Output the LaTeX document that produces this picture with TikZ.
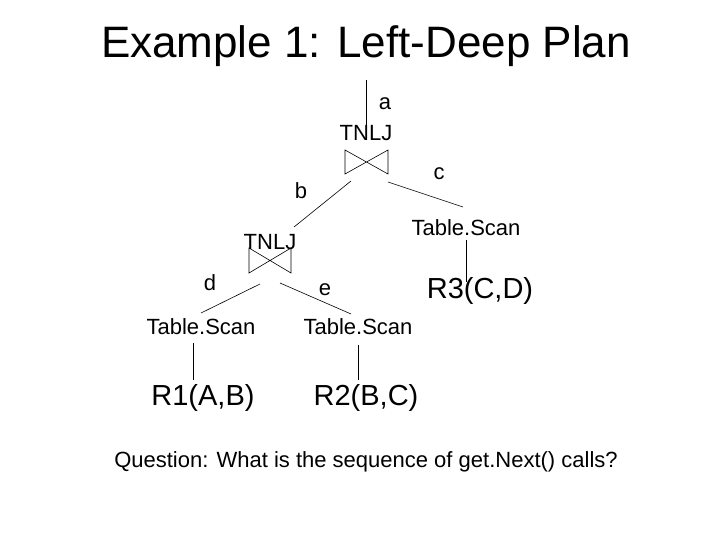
\documentclass[tikz,border=0pt]{standalone}
\usepackage{fontspec}
\setmainfont{Liberation Sans}
\begin{document}
\begin{tikzpicture}[x=1pt,y=-1pt,
  lbl/.style={inner sep=0pt,font=\fontsize{22}{24}\selectfont},
  rel/.style={inner sep=0pt,font=\fontsize{29}{32}\selectfont},
  ln/.style={black,line width=0.6pt}]
\useasboundingbox (0,0) rectangle (720,540);
\node[inner sep=0pt,font=\fontsize{44}{48}\selectfont] (title) at (366,46) {Example 1: Left-Deep Plan};
\coordinate (top) at (366,80);
\node[lbl] (a) at (385,104) {a};
\node[lbl] (t1) at (366,133) {TNLJ};
\draw[ln] (345,150)--(345,174)--(388,150)--(388,174)--cycle;
\node[lbl] (c) at (439,174) {c};
\node[lbl] (b) at (301,191) {b};
\node[lbl] (ts3) at (466,228) {Table.Scan};
\node[lbl] (t2) at (270,242) {TNLJ};
\draw[ln] (249,248)--(249,273)--(291,248)--(291,273)--cycle;
\node[lbl] (d) at (210,283) {d};
\node[lbl] (e) at (325,290) {e};
\node[rel] (r3) at (480,291) {R3(C,D)};
\node[lbl] (ts1) at (201,327) {Table.Scan};
\node[lbl] (ts2) at (358,327) {Table.Scan};
\node[rel] (r1) at (203,398) {R1(A,B)};
\node[rel] (r2) at (366,398) {R2(B,C)};
\node[lbl] (q) at (366,462) {Question: What is the sequence of get.Next() calls?};
\coordinate (j1l) at (351,181); \coordinate (j1r) at (388,182);
\coordinate (j2l) at (260,284); \coordinate (j2r) at (280,283);
\draw[ln] (top)--(366,140);
\draw[ln] (j1l)--(294,227);
\draw[ln] (j1r)--(463,207);
\draw[ln] (466,240)--(466,282);
\draw[ln] (j2l)--(201,313);
\draw[ln] (j2r)--(351,314);
\draw[ln] (193,343)--(193,380);
\draw[ln] (358,345)--(358,380);
\end{tikzpicture}
\end{document}
